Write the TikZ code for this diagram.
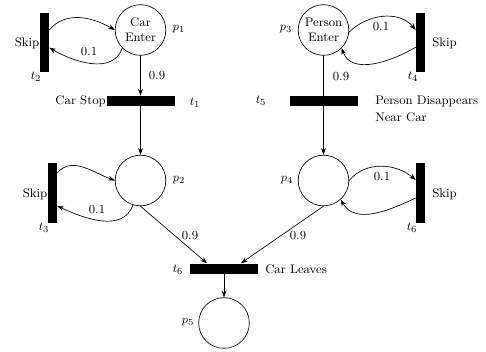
\documentclass[tikz,border=0pt]{standalone}
\usetikzlibrary{arrows.meta}
\begin{document}
\begin{tikzpicture}[x=0.75pt,y=-0.75pt,
  font=\fontsize{9.3}{11.5}\selectfont,
  place/.style={circle,draw,line width=0.5pt,minimum size=38pt,inner sep=0pt,align=center},
  vbar/.style={fill=black,minimum width=6.75pt,minimum height=44.5pt,inner sep=0pt},
  hbar/.style={fill=black,minimum width=51pt,minimum height=7.5pt,inner sep=0pt},
  arc/.style={line width=0.5pt,-{Stealth[length=5pt,width=3.6pt]}},
  plainarc/.style={line width=0.5pt},
  lbl/.style={inner sep=0pt}]
\useasboundingbox (0,0) rectangle (486,351);
% places
\node[place] (p1) at (140.5,30) {Car\\Enter};
\node[place] (p2) at (140.5,180.5) {};
\node[place] (p3) at (323.5,30) {Person\\Enter};
\node[place] (p4) at (323.5,180.5) {};
\node[place] (p5) at (224,323) {};
% transitions
\node[vbar] (t2) at (44.5,42.5) {};
\node[hbar] (t1) at (140.5,101) {};
\node[vbar] (t3) at (52.5,193) {};
\node[vbar] (t4) at (420.5,42.5) {};
\node[hbar] (t5) at (323.5,101) {};
\node[vbar] (t6r) at (420.5,193) {};
\node[hbar] (t6) at (224,268.5) {};
% labels
\node[lbl] (lp1) at (179,29) {$p_1$};
\node[lbl] (lp2) at (179,180) {$p_2$};
\node[lbl] (lp3) at (286,29) {$p_3$};
\node[lbl] (lp4) at (287,180) {$p_4$};
\node[lbl] (lp5) at (188,322) {$p_5$};
\node[lbl] (lt1) at (195,103) {$t_1$};
\node[lbl] (lt2) at (36,77) {$t_2$};
\node[lbl] (lt3) at (44,228) {$t_3$};
\node[lbl] (lt4) at (413,77) {$t_4$};
\node[lbl] (lt5) at (261,101) {$t_5$};
\node[lbl] (lt6r) at (412,228) {$t_6$};
\node[lbl] (lt6) at (178,270) {$t_6$};
\node[lbl,anchor=east] (s2) at (39.5,43) {Skip};
\node[lbl,anchor=east] (s3) at (47.5,194) {Skip};
\node[lbl,anchor=west] (s4) at (432,43) {Skip};
\node[lbl,anchor=west] (s6) at (432,194) {Skip};
\node[lbl,anchor=east] (cs) at (106,101) {Car Stop};
\node[lbl,anchor=west,align=left,font=\fontsize{9.3}{12.75}\selectfont] (pd) at (375,108.5) {Person Disappears\\Near Car};
\node[lbl,anchor=west] (cl) at (265,269) {Car Leaves};
\node[lbl] (w1) at (89,52) {0.1};
\node[lbl] (w2) at (157,76) {0.9};
\node[lbl] (w3) at (97,210) {0.1};
\node[lbl] (w4) at (190,236) {0.9};
\node[lbl] (w5) at (381,27) {0.1};
\node[lbl] (w6) at (341,77) {0.9};
\node[lbl] (w7) at (382,177) {0.1};
\node[lbl] (w8) at (298,236) {0.9};
% connectors
\draw[arc] (p1) -- (t1);
\draw[arc] (t1.center) -- (p2);
\draw[plainarc] (p3) -- (t5.center);
\draw[arc] (t5.center) -- (p4);
\draw[arc] (p2.south) -- ([xshift=-12.75pt]t6.north);
\draw[arc] (p4.south) -- ([xshift=12.75pt]t6.north);
\draw[arc] (t6.center) -- (p5);
% skip loops
\draw[arc] ([yshift=9.4pt]t2.east) to[out=50,in=150] (p1.west);
\draw[arc] (p1.225) to[out=250,in=-30] ([yshift=-3.9pt]t2.east);
\draw[arc] (p3.355) to[out=45,in=130] ([yshift=9.4pt]t4.west);
\draw[arc] ([yshift=-3.6pt]t4.west) to[out=210,in=-70] (p3.315);
\draw[arc] ([yshift=15pt]t3.east) to[out=50,in=160] (p2.west);
\draw[arc] (p2.253) to[out=250,in=-25] ([yshift=-9.75pt]t3.east);
\draw[arc] (p4.east) to[out=50,in=140] ([yshift=9.75pt]t6r.west);
\draw[arc] ([yshift=-3.75pt]t6r.west) to[out=205,in=-60] (p4.312);
\end{tikzpicture}
\end{document}
